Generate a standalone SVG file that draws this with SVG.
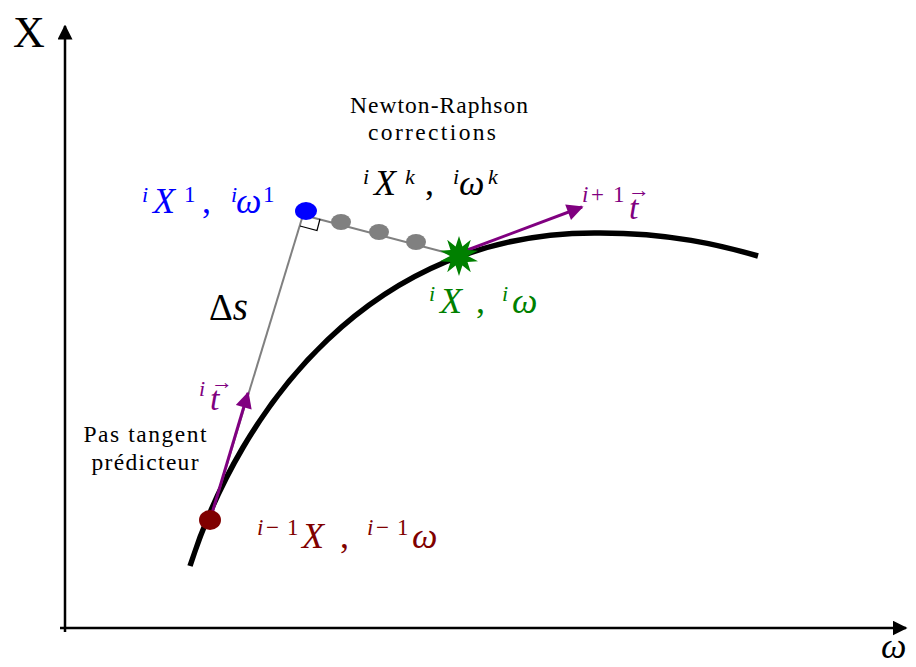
<svg xmlns="http://www.w3.org/2000/svg" width="916" height="667" viewBox="0 0 916 667">
<defs>
<style>
.serif{font-family:"Liberation Serif","DejaVu Serif",serif;}
.m{font-family:"Liberation Serif","DejaVu Serif",serif;font-style:italic;}
.r{font-style:normal;}
.note{font-family:"Liberation Serif","DejaVu Serif",serif;font-size:23.5px;fill:#000;text-anchor:middle;}
.axis{stroke:#000;stroke-width:2.5;fill:none;}
.tan{stroke:#800080;stroke-width:3;fill:none;}
.gray{stroke:#808080;stroke-width:2;fill:none;}
</style>
<marker id="ah" viewBox="0 0 10 10" refX="9" refY="5" markerWidth="6" markerHeight="6" markerUnits="strokeWidth" orient="auto">
<path d="M0,0 L10,5 L0,10 z" fill="#000"/>
</marker>
<marker id="ahp" viewBox="0 0 10 10" refX="9" refY="5" markerWidth="6" markerHeight="5.5" markerUnits="strokeWidth" orient="auto">
<path d="M0,0 L10,5 L0,10 z" fill="#800080"/>
</marker>
</defs>
<rect width="916" height="667" fill="#fff"/>

<g id="axes">
<line class="axis" x1="65" y1="632" x2="65" y2="26" marker-end="url(#ah)"/>
<line class="axis" x1="60" y1="628" x2="906" y2="628" marker-end="url(#ah)"/>
<text class="serif" x="13" y="47" font-size="44">X</text>
<text class="m" x="881" y="658" font-size="36">ω</text>
</g>

<g id="curve">
<path d="M190,566 C240,410 370,230 600,233 C670,233 720,245 758,256" stroke="#000" stroke-width="5.5" fill="none"/>
</g>

<g id="connectors">
<line class="gray" x1="210" y1="520" x2="303" y2="215"/>
<line class="gray" x1="303" y1="215" x2="459" y2="256"/>
<path d="M300,226 L317,230.5 L320,219" stroke="#000" stroke-width="1.2" fill="none"/>
<line class="tan" x1="210" y1="520" x2="248" y2="393" marker-end="url(#ahp)"/>
<line class="tan" x1="462" y1="252" x2="582" y2="207" marker-end="url(#ahp)"/>
</g>

<g id="node-iter">
<ellipse cx="341" cy="222" rx="10" ry="8" fill="#808080"/>
<ellipse cx="379" cy="232" rx="10" ry="8" fill="#808080"/>
<ellipse cx="416" cy="242" rx="10" ry="8" fill="#808080"/>
</g>

<g id="node-first">
<ellipse cx="306" cy="211" rx="11" ry="9" fill="#0000ff"/>
</g>

<g id="node-prev">
<ellipse cx="210" cy="520" rx="11" ry="10" fill="#800000"/>
</g>

<g id="node-star">
<polygon fill="#008000" points="459.0,236.0 462.4,246.5 470.8,239.8 467.5,250.1 478.0,250.8 468.0,256.0 478.0,261.2 467.5,261.9 470.8,272.2 462.4,265.5 459.0,276.0 455.6,265.5 447.2,272.2 450.5,261.9 440.0,261.2 450.0,256.0 440.0,250.8 450.5,250.1 447.2,239.8 455.6,246.5"/>
</g>

<g id="labels">
<text class="note"><tspan x="439" y="113" textLength="178" lengthAdjust="spacing">Newton-Raphson</tspan><tspan x="432" y="140" textLength="128" lengthAdjust="spacing">corrections</tspan></text>
<text class="note"><tspan x="145" y="442" textLength="123" lengthAdjust="spacing">Pas tangent</tspan><tspan x="145" y="470" textLength="107" lengthAdjust="spacing">prédicteur</tspan></text>

<text class="serif" x="209" y="320" font-size="37">Δ<tspan class="m" font-size="39">s</tspan></text>

<text class="m" fill="#0000ff" font-size="36"><tspan x="142" y="202" font-size="22">i</tspan><tspan x="153" y="213">X</tspan><tspan class="r" x="184" y="202" font-size="23">1</tspan><tspan class="r" x="202" y="213">,</tspan><tspan x="231" y="202" font-size="22">i</tspan><tspan x="236" y="213">ω</tspan><tspan class="r" x="263" y="202" font-size="23">1</tspan></text>

<text class="m" fill="#000" font-size="36"><tspan x="363" y="184" font-size="22">i</tspan><tspan x="374" y="195">X</tspan><tspan x="405" y="184" font-size="22">k</tspan><tspan class="r" x="425" y="195">,</tspan><tspan x="453" y="184" font-size="22">i</tspan><tspan x="459" y="195">ω</tspan><tspan x="488" y="184" font-size="22">k</tspan></text>

<text class="m" fill="#008000" font-size="36"><tspan x="429" y="301" font-size="22">i</tspan><tspan x="440" y="313">X</tspan><tspan class="r" x="476" y="313">,</tspan><tspan x="502" y="301" font-size="22">i</tspan><tspan x="512" y="313">ω</tspan></text>

<text class="m" fill="#800000" font-size="36"><tspan x="257" y="535" font-size="23">i</tspan><tspan class="r" x="266" y="535" font-size="23">−</tspan><tspan class="r" x="287" y="535" font-size="23">1</tspan><tspan x="302" y="548">X</tspan><tspan class="r" x="340" y="548">,</tspan><tspan x="367" y="535" font-size="23">i</tspan><tspan class="r" x="376" y="535" font-size="23">−</tspan><tspan class="r" x="397" y="535" font-size="23">1</tspan><tspan x="412" y="548">ω</tspan></text>

<text class="m" fill="#800080"><tspan x="199" y="396" font-size="22">i</tspan><tspan x="210" y="410" font-size="34">t</tspan><tspan class="r" x="211" y="389" font-size="22">→</tspan></text>

<text class="m" fill="#800080"><tspan x="582" y="202" font-size="23">i</tspan><tspan class="r" x="591" y="202" font-size="23">+</tspan><tspan class="r" x="613" y="202" font-size="23">1</tspan><tspan x="629" y="219" font-size="34">t</tspan><tspan class="r" x="628" y="197" font-size="22">→</tspan></text>
</g>
</svg>
